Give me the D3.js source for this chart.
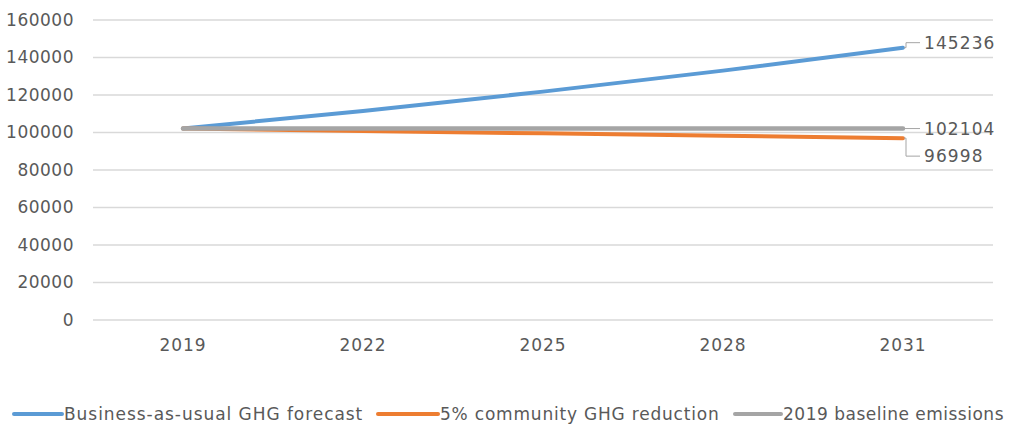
<!DOCTYPE html>
<html><head><meta charset="utf-8">
<script src="https://cdn.jsdelivr.net/npm/d3@7"></script>
<style>body{margin:0;background:#fff}svg{display:block}text{font-family:"DejaVu Sans",sans-serif;fill:#595959}</style>
</head><body><svg id="c" width="1011" height="428"></svg>
<script>
const years = ["2019","2022","2025","2028","2031"];
const bauValues = [102104, 111500, 121800, 133000, 145236];
const reductionValues = [102104, 100828, 99551, 98275, 96998];
const baselineValues = [102104, 102104, 102104, 102104, 102104];
const seriesNames = ["Business-as-usual GHG forecast","5% community GHG reduction","2019 baseline emissions"];
const yTicks = [0,20000,40000,60000,80000,100000,120000,140000,160000];
const colors = ["#5B9BD5","#ED7D31","#A5A5A5"];

const svg = d3.select("#c");
const x = d3.scaleBand().domain(years).range([93, 993]);
const y = d3.scaleLinear().domain([0,160000]).range([320, 20]);
const cx = d => x(d) + x.bandwidth()/2;

// gridlines
svg.append("g").selectAll("line").data(yTicks).join("line")
  .attr("x1",93).attr("x2",993).attr("y1",d=>y(d)).attr("y2",d=>y(d))
  .attr("stroke","#D9D9D9").attr("stroke-width",1.3);

// y axis labels
const ya = svg.append("g").attr("transform","translate(93,0)")
  .call(d3.axisLeft(y).tickValues(yTicks).tickSize(0).tickPadding(19).tickFormat(d3.format("d")));
ya.select(".domain").remove();
ya.selectAll("text").style("font-size","17px").style("letter-spacing","0.5px").style("font-family","DejaVu Sans").attr("fill","#595959");

// x axis labels
const xa = svg.append("g").attr("transform","translate(0,320)")
  .call(d3.axisBottom(x).tickSize(0).tickPadding(19));
xa.select(".domain").remove();
xa.selectAll("text").style("font-size","17px").style("letter-spacing","1px").style("font-family","DejaVu Sans").attr("fill","#595959");

const series = [bauValues, reductionValues, baselineValues];
const line = d3.line().x((d,i)=>cx(years[i])).y(d=>y(d));
series.forEach((s,k)=>{
  svg.append("path").datum(s).attr("d",line).attr("fill","none")
    .attr("stroke",colors[k]).attr("stroke-width",k===2?4.5:4).attr("stroke-linecap","round");
});

// end labels with leader lines
const lastX = cx(years[4]);
const endLabels = [
  {v: bauValues[4], dy: -5},
  {v: baselineValues[4], dy: 0},
  {v: reductionValues[4], dy: 18}
];
endLabels.forEach(l=>{
  const y0 = y(l.v), y1 = y0 + l.dy;
  svg.append("path").attr("d",`M${lastX+1},${y0}L${lastX+3},${y0}L${lastX+3},${y1}L${lastX+17},${y1}`)
    .attr("fill","none").attr("stroke","#A5A5A5").attr("stroke-width",1);
  svg.append("text").attr("x",lastX+21).attr("y",y1).attr("dy","0.35em")
    .style("font-size","17px").style("letter-spacing","1.1px").text(l.v);
});

// legend
const legendPos = [{x:14,tx:64,ls:0.95},{x:378,tx:440,ls:0.8},{x:735,tx:783,ls:0.5}];
seriesNames.forEach((n,k)=>{
  const g = svg.append("g");
  g.append("line").attr("x1",legendPos[k].x).attr("x2",legendPos[k].tx-2).attr("y1",414).attr("y2",414)
    .attr("stroke",colors[k]).attr("stroke-width",4).attr("stroke-linecap","round");
  g.append("text").attr("x",legendPos[k].tx).attr("y",414).attr("dy","0.35em")
    .style("font-size","17px").style("letter-spacing",legendPos[k].ls+"px").text(n);
});
</script></body></html>
